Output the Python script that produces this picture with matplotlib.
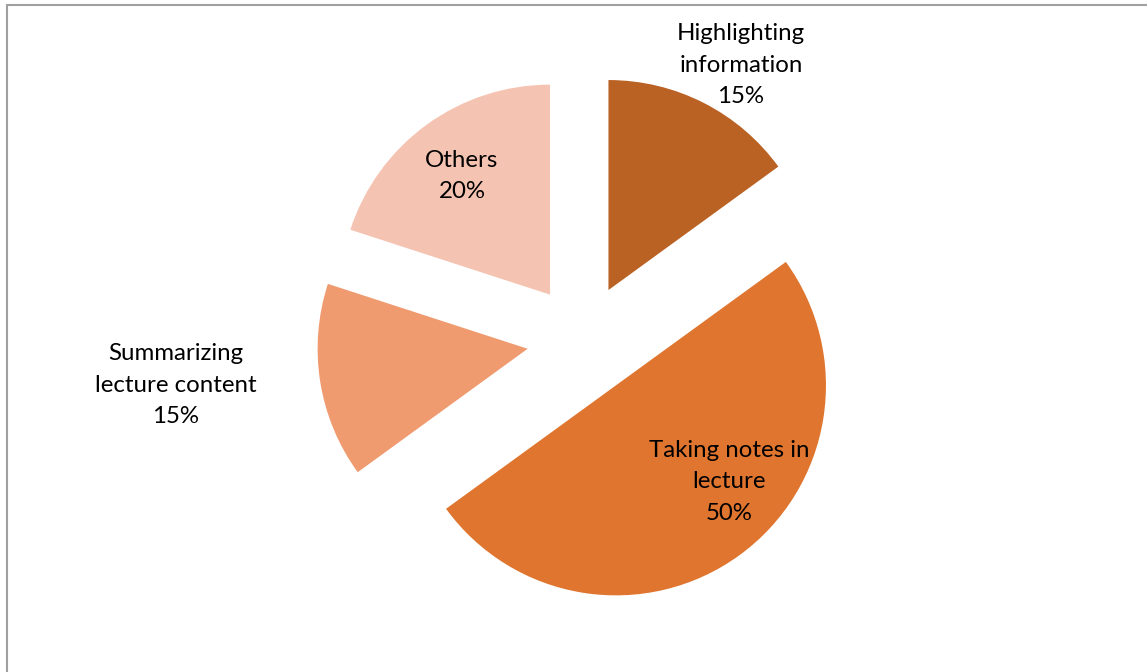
import matplotlib
matplotlib.use("Agg")
import matplotlib.pyplot as plt
from matplotlib.patches import Rectangle

# Share of each study activity
categories = ["Highlighting\ninformation", "Taking notes in\nlecture",
              "Summarizing\nlecture content", "Others"]
shares = [15, 50, 15, 20]
colors = ["#BA6124", "#DF752E", "#F09A70", "#F5C3B1"]

# Label anchor positions (pixel coordinates of each label's centre)
label_px = [(741, 65), (729, 482), (176, 385), (462, 176)]

W, H, DPI = 1147, 672, 100
fig = plt.figure(figsize=(W / DPI, H / DPI), dpi=DPI)
fig.patch.set_facecolor("white")

ax = fig.add_axes([0, 0, 1, 1])
cx, cy, r = 583, 340, 210  # pie centre and radius in pixels

ax.pie(shares, colors=colors, startangle=90, counterclock=False,
       explode=[0.267] * len(shares), radius=1.0, center=(0, 0),
       wedgeprops=dict(linewidth=0), frame=False)
ax.set_xlim((0 - cx) / r, (W - cx) / r)
ax.set_ylim((cy - H) / r, (cy - 0) / r)
ax.set_aspect("auto")
ax.axis("off")

for name, val, (px, py) in zip(categories, shares, label_px):
    ax.text((px - cx) / r, (cy - py) / r, f"{name}\n{val}%",
            ha="center", va="center", fontsize=17.3, family="Lato",
            linespacing=1.6, color="black")

# Chart-area frame
fig.patches.append(Rectangle((7.5 / W, -0.1), 1.2, 1.1 - 4.5 / H,
                             transform=fig.transFigure, fill=False,
                             edgecolor="#A0A0A0", linewidth=1.5,
                             clip_on=False))

fig.savefig("out.png", dpi=DPI)
